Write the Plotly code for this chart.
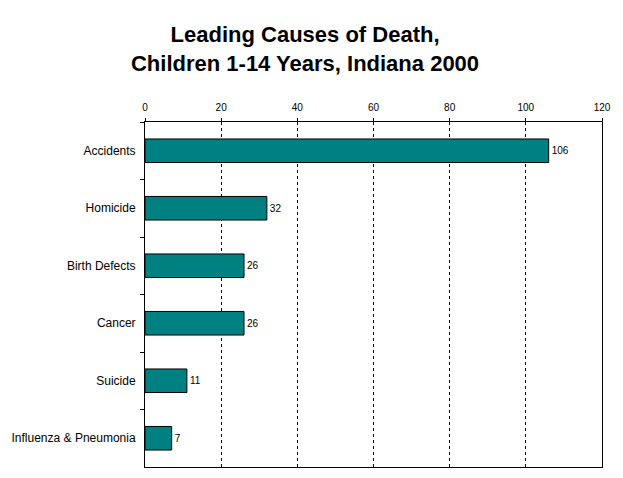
import plotly.graph_objects as go

categories = ["Accidents", "Homicide", "Birth Defects", "Cancer", "Suicide", "Influenza & Pneumonia"]
values = [106, 32, 26, 26, 11, 7]
x_ticks = [0, 20, 40, 60, 80, 100, 120]

FONT = "Arial, Liberation Sans, sans-serif"

fig = go.Figure(go.Bar(
    x=values, y=categories, orientation="h",
    marker=dict(color="#008080", line=dict(color="black", width=1)),
    text=[str(v) for v in values], textposition="outside",
    textfont=dict(family=FONT, size=10, color="black"),
    cliponaxis=False, width=0.41,
))

fig.update_layout(
    width=615, height=470,
    margin=dict(l=137, r=21, t=114, b=11, autoexpand=False),
    paper_bgcolor="white", plot_bgcolor="white",
    showlegend=False,
    title=dict(
        text="<b>Leading Causes of Death,<br>Children 1-14 Years, Indiana 2000</b>",
        x=0.483, xanchor="center", y=0.927, yanchor="top", yref="container",
        font=dict(family=FONT, size=22, color="black"),
        automargin=False,
    ),
    xaxis=dict(
        side="top", range=[0, 120], tickvals=x_ticks, ticktext=[str(t) for t in x_ticks],
        showgrid=True, gridcolor="black", griddash="3px,3px", gridwidth=1,
        showline=True, linecolor="black", linewidth=1, mirror=True,
        ticks="outside", ticklen=3, tickcolor="black", ticklabelstandoff=3,
        tickfont=dict(family=FONT, size=10, color="black"),
        zeroline=False, fixedrange=True, automargin=False,
    ),
    yaxis=dict(
        autorange="reversed", categoryorder="array", categoryarray=categories,
        showline=True, linecolor="black", linewidth=1, mirror=True,
        ticks="outside", ticklen=4, tickcolor="black", tickson="boundaries",
        ticklabelstandoff=6,
        tickfont=dict(family=FONT, size=12, color="black"),
        showgrid=False, fixedrange=True, automargin=False,
    ),
)

fig.write_html("out.html")
